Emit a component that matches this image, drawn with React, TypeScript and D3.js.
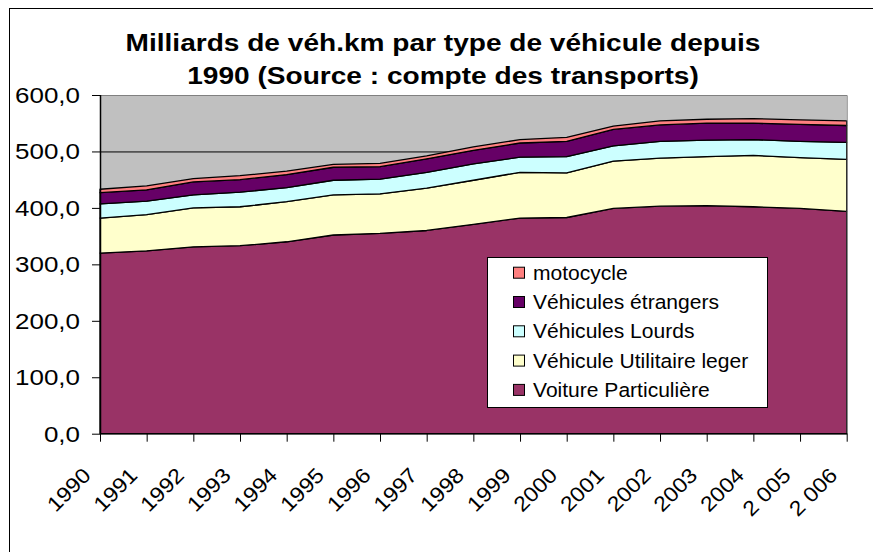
import React, { useEffect, useRef } from 'react'
import * as d3 from 'd3'

// valeurs (milliards de véh.km)
const years = ['1990', '1991', '1992', '1993', '1994', '1995', '1996', '1997', '1998', '1999',
  '2000', '2001', '2002', '2003', '2004', '2 005', '2 006']
const voiture = [320, 324, 331, 333, 340, 352, 355, 360, 371, 382, 383, 399, 403, 404, 402, 399, 394]
const utilitaire = [62, 64, 69, 69, 71, 71, 70, 75, 78, 81, 79, 84, 85, 87, 91, 90, 92]
const lourds = [25, 24, 23, 26, 25, 26, 26, 28, 29, 27, 29, 27, 30, 29, 28, 29, 30]
const etrangers = [20, 20, 23, 22, 23, 23, 22, 24, 24, 25, 27, 29, 29, 30, 29, 30, 30]
const moto = [6, 7, 6, 7, 6, 5, 6, 5, 6, 6, 7, 6, 7, 7, 8, 8, 8]
const yTicks = [0, 100, 200, 300, 400, 500, 600]

const titleLines = ['Milliards de véh.km par type de véhicule depuis', '1990 (Source : compte des transports)']

const series = [
  { key: 'voiture', label: 'Voiture Particulière', color: '#993366', values: voiture },
  { key: 'utilitaire', label: 'Véhicule Utilitaire leger', color: '#FFFFCC', values: utilitaire },
  { key: 'lourds', label: 'Véhicules Lourds', color: '#CCFFFF', values: lourds },
  { key: 'etrangers', label: 'Véhicules étrangers', color: '#660066', values: etrangers },
  { key: 'moto', label: 'motocycle', color: '#FF8080', values: moto },
]

const width = 873
const height = 552
const font = 'Liberation Sans, Arial, sans-serif'

function App() {
  const ref = useRef<HTMLDivElement>(null)

  useEffect(() => {
    const margin = { top: 95, right: 26.3, bottom: 118.3, left: 100 }

    const rows = years.map((y, i) => {
      const r: any = { year: y }
      series.forEach(s => { r[s.key] = s.values[i] })
      return r
    })

    const stack = d3.stack().keys(series.map(s => s.key))
    const layers = stack(rows)

    const x = d3.scalePoint()
      .domain(years)
      .range([margin.left, width - margin.right])

    const y = d3.scaleLinear()
      .domain([0, 600])
      .range([height - margin.bottom, margin.top])

    const area = d3.area<any>()
      .x(d => x(d.data.year)!)
      .y0(d => y(d[0]))
      .y1(d => y(d[1]))

    const fmt = (v: number) => d3.format('.1f')(v).replace('.', ',')

    const root = d3.select(ref.current)
    root.selectAll('*').remove()

    const svg = root.append('svg')
      .attr('width', width)
      .attr('height', height)
      .style('position', 'absolute')
      .style('left', 0)
      .style('top', 0)
      .style('background', '#fff')
      .attr('font-family', font)

    // cadre du graphique
    svg.append('rect')
      .attr('x', 9.5).attr('y', 8.5)
      .attr('width', 900).attr('height', 600)
      .attr('fill', '#fff')
      .attr('stroke', '#000')

    // titre
    svg.append('g').selectAll('text')
      .data(titleLines)
      .join('text')
      .attr('transform', (d, i) => `translate(443,${51 + i * 33.3}) scale(1.17,1)`)
      .attr('text-anchor', 'middle')
      .attr('font-size', 24)
      .attr('font-weight', 'bold')
      .text(d => d)

    const [x0, x1] = x.range()
    const [yb, yt] = y.range()

    // zone de traçage
    svg.append('rect')
      .attr('x', x0).attr('y', yt)
      .attr('width', x1 - x0).attr('height', yb - yt)
      .attr('fill', '#C0C0C0')

    svg.append('g').selectAll('line')
      .data(yTicks.slice(1, -1))
      .join('line')
      .attr('x1', x0).attr('x2', x1)
      .attr('y1', d => y(d) + 0.5).attr('y2', d => y(d) + 0.5)
      .attr('stroke', '#000')

    svg.append('g').selectAll('path')
      .data(layers)
      .join('path')
      .attr('d', area)
      .attr('fill', (d, i) => series[i].color)
      .attr('stroke', '#000')
      .attr('stroke-width', 1.3)
      .attr('stroke-linejoin', 'round')

    // bordure grise
    svg.append('path')
      .attr('d', `M${x0},${yt + 0.5}H${x1 + 0.5}V${yb}`)
      .attr('fill', 'none')
      .attr('stroke', '#808080')

    // axe Y
    const yAxis = svg.append('g')
    yAxis.append('line')
      .attr('x1', x0 + 0.5).attr('x2', x0 + 0.5)
      .attr('y1', yt).attr('y2', yb)
      .attr('stroke', '#000').attr('stroke-width', 1.5)
    yAxis.selectAll('line.tick')
      .data(yTicks)
      .join('line')
      .attr('class', 'tick')
      .attr('x1', x0 - 8).attr('x2', x0)
      .attr('y1', d => y(d) + 0.5).attr('y2', d => y(d) + 0.5)
      .attr('stroke', '#000')
    yAxis.selectAll('text')
      .data(yTicks)
      .join('text')
      .attr('transform', d => `translate(80,${y(d) + 8}) scale(1.18,1)`)
      .attr('text-anchor', 'end')
      .attr('font-size', 22)
      .text(d => fmt(d))

    // axe X
    const xAxis = svg.append('g')
    xAxis.append('line')
      .attr('x1', x0).attr('x2', x1 + 0.5)
      .attr('y1', yb).attr('y2', yb)
      .attr('stroke', '#000').attr('stroke-width', 1.5)
    xAxis.selectAll('line.tick')
      .data(years)
      .join('line')
      .attr('class', 'tick')
      .attr('x1', d => x(d)! + 0.5).attr('x2', d => x(d)! + 0.5)
      .attr('y1', yb).attr('y2', yb + 8)
      .attr('stroke', '#000')
    xAxis.selectAll('text')
      .data(years)
      .join('text')
      .attr('transform', d => `translate(${x(d)! - 8},${yb + 43}) rotate(-45) scale(1.1,1)`)
      .attr('text-anchor', 'end')
      .attr('font-size', 21)
      .text(d => d)

    // légende
    const leg = svg.append('g')
    leg.append('rect')
      .attr('x', 487.5).attr('y', 257.5)
      .attr('width', 280).attr('height', 150)
      .attr('fill', '#fff')
      .attr('stroke', '#000')
    const items = leg.selectAll('g.item')
      .data(series.slice().reverse())
      .join('g')
      .attr('class', 'item')
      .attr('transform', (d, i) => `translate(513,${272.7 + i * 29.3})`)
    items.append('rect')
      .attr('x', 0.5).attr('y', -5.5)
      .attr('width', 11).attr('height', 11)
      .attr('fill', d => d.color)
      .attr('stroke', '#000')
    items.append('text')
      .attr('transform', 'translate(20,7) scale(1.08,1)')
      .attr('font-size', 19.5)
      .text(d => d.label)
  }, [])

  return <div ref={ref}></div>
}

export default App
